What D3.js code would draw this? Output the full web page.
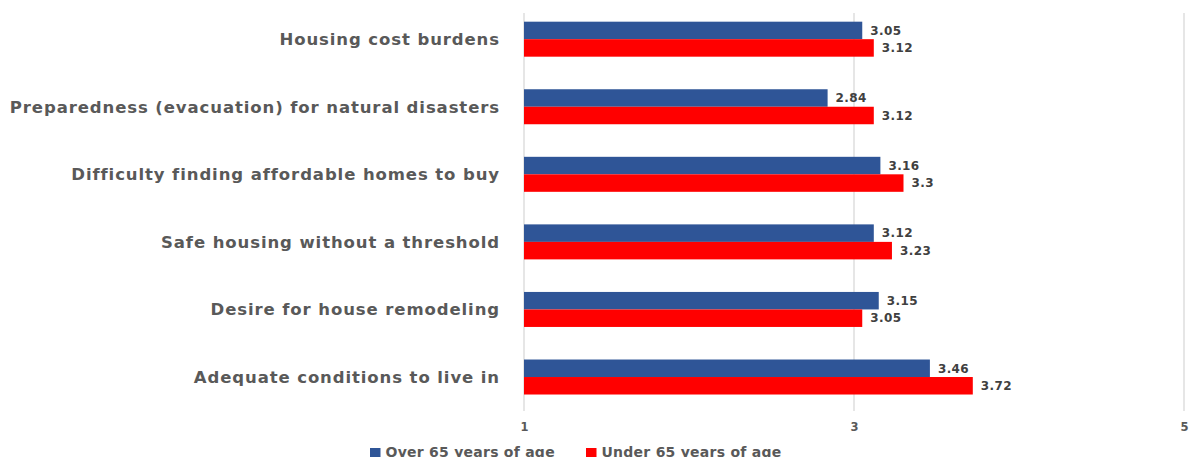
<!DOCTYPE html>
<html>
<head>
<meta charset="utf-8">
<script src="https://cdn.jsdelivr.net/npm/d3@7"></script>
<style>
  html, body { margin: 0; padding: 0; background: #ffffff; }
  svg { display: block; }
</style>
</head>
<body>
<svg id="chart" width="1192" height="457"></svg>
<script>
// Survey topics, listed top to bottom
const categories = [
  "Housing cost burdens",
  "Preparedness (evacuation) for natural disasters",
  "Difficulty finding affordable homes to buy",
  "Safe housing without a threshold",
  "Desire for house remodeling",
  "Adequate conditions to live in"
];
const seriesNames = ["Over 65 years of age", "Under 65 years of age"];
const over65 = [3.05, 2.84, 3.16, 3.12, 3.15, 3.46];
const under65 = [3.12, 3.12, 3.3, 3.23, 3.05, 3.72];
const tickValues = [1, 3, 5];

const colors = ["#2F5597", "#FF0000"];
const textColor = "#595959";
const valueColor = "#404040";
const font = "'DejaVu Sans', Verdana, sans-serif";

const svg = d3.select("#chart");

const x = d3.scaleLinear().domain([1, 5]).range([524, 1184]);
const y = d3.scaleBand().domain(categories).range([5.4, 410.8])
  .paddingInner(0.482).paddingOuter(0.241);
const ySub = d3.scaleBand().domain(seriesNames).range([0, y.bandwidth()]);

// Vertical gridlines
svg.append("g")
  .selectAll("line")
  .data(tickValues)
  .join("line")
  .attr("x1", d => x(d)).attr("x2", d => x(d))
  .attr("y1", 13).attr("y2", 411)
  .attr("stroke", "#D9D9D9")
  .attr("stroke-width", 1.3);

// Bottom axis tick labels
const xAxis = d3.axisBottom(x).tickValues(tickValues).tickSize(0).tickPadding(0)
  .tickFormat(d3.format("d"));
const gx = svg.append("g").attr("transform", "translate(0,420)").call(xAxis);
gx.select(".domain").remove();
gx.selectAll("text")
  .attr("dy", null)
  .attr("y", 10.7)
  .attr("fill", textColor)
  .style("font-family", font)
  .style("font-size", "11.5px")
  .style("font-weight", "bold");

// Category labels
svg.append("g")
  .selectAll("text")
  .data(categories)
  .join("text")
  .attr("x", 500)
  .attr("y", d => y(d) + y.bandwidth() / 2 + 5.9)
  .attr("text-anchor", "end")
  .attr("fill", textColor)
  .style("font-family", font)
  .style("font-size", "16.5px")
  .style("font-weight", "bold")
  .style("letter-spacing", "0.9px")
  .text(d => d);

// Bars and value labels
const rows = categories.map((c, i) => ({
  category: c,
  values: [
    { series: seriesNames[0], value: over65[i], color: colors[0] },
    { series: seriesNames[1], value: under65[i], color: colors[1] }
  ]
}));

const groups = svg.append("g")
  .selectAll("g")
  .data(rows)
  .join("g")
  .attr("transform", d => `translate(0,${y(d.category)})`);

groups.selectAll("rect")
  .data(d => d.values)
  .join("rect")
  .attr("x", x(1))
  .attr("y", d => ySub(d.series))
  .attr("width", d => x(d.value) - x(1))
  .attr("height", ySub.bandwidth())
  .attr("fill", d => d.color);

groups.selectAll("text")
  .data(d => d.values)
  .join("text")
  .attr("x", d => x(d.value) + 8)
  .attr("y", d => ySub(d.series) + ySub.bandwidth() / 2 + 4.3)
  .attr("fill", valueColor)
  .style("font-family", font)
  .style("font-size", "12px")
  .style("font-weight", "bold")
  .style("letter-spacing", "0.4px")
  .text(d => d.value);

// Legend
const legendX = [370, 586];
const legend = svg.append("g")
  .selectAll("g")
  .data(seriesNames)
  .join("g")
  .attr("transform", (d, i) => `translate(${legendX[i]},0)`);
legend.append("rect")
  .attr("x", 0).attr("y", 448)
  .attr("width", 10.5).attr("height", 10.5)
  .attr("fill", (d, i) => colors[i]);
legend.append("text")
  .attr("x", 15.5).attr("y", 457)
  .attr("fill", textColor)
  .style("font-family", font)
  .style("font-size", "14px")
  .style("font-weight", "bold")
  .style("letter-spacing", "0.25px")
  .text(d => d);
</script>
</body>
</html>
